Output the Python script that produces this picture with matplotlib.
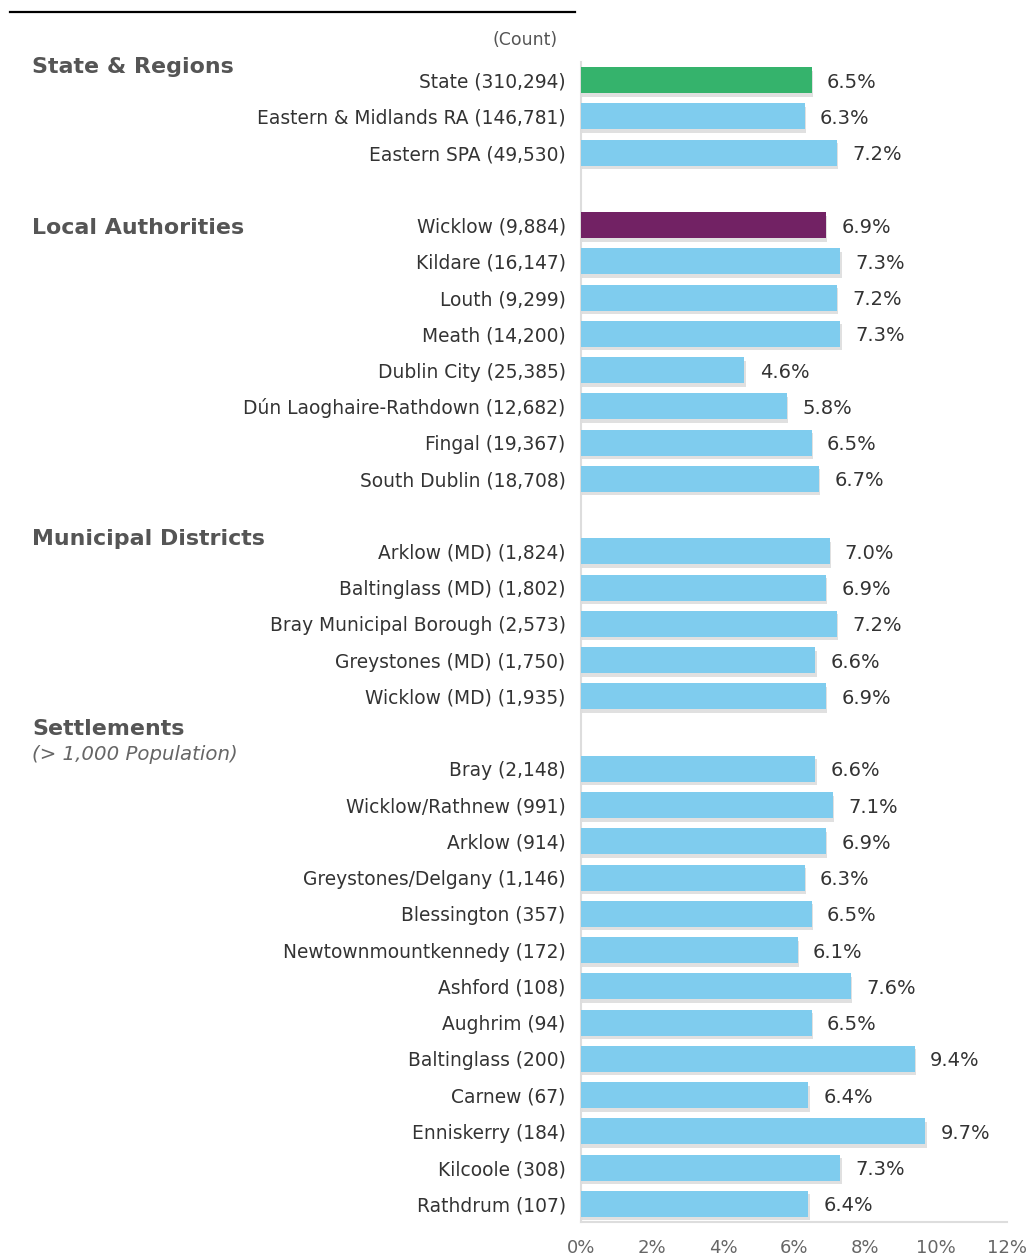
import matplotlib
matplotlib.use("Agg")
import matplotlib.pyplot as plt
import matplotlib.patheffects as pe
from matplotlib.lines import Line2D

plt.rcParams['font.family'] = ['DejaVu Sans']

# ---- data ----
state_labels = ["State (310,294)", "Eastern & Midlands RA (146,781)", "Eastern SPA (49,530)"]
state_values = [6.5, 6.3, 7.2]

la_labels = ["Wicklow (9,884)", "Kildare (16,147)", "Louth (9,299)", "Meath (14,200)",
             "Dublin City (25,385)", "Dún Laoghaire-Rathdown (12,682)", "Fingal (19,367)",
             "South Dublin (18,708)"]
la_values = [6.9, 7.3, 7.2, 7.3, 4.6, 5.8, 6.5, 6.7]

md_labels = ["Arklow (MD) (1,824)", "Baltinglass (MD) (1,802)", "Bray Municipal Borough (2,573)",
             "Greystones (MD) (1,750)", "Wicklow (MD) (1,935)"]
md_values = [7.0, 6.9, 7.2, 6.6, 6.9]

set_labels = ["Bray (2,148)", "Wicklow/Rathnew (991)", "Arklow (914)", "Greystones/Delgany (1,146)",
              "Blessington (357)", "Newtownmountkennedy (172)", "Ashford (108)", "Aughrim (94)",
              "Baltinglass (200)", "Carnew (67)", "Enniskerry (184)", "Kilcoole (308)",
              "Rathdrum (107)"]
set_values = [6.6, 7.1, 6.9, 6.3, 6.5, 6.1, 7.6, 6.5, 9.4, 6.4, 9.7, 7.3, 6.4]

section_titles = ["State & Regions", "Local Authorities", "Municipal Districts", "Settlements"]
x_ticks = [0, 2, 4, 6, 8, 10, 12]
x_ticklabels = ["0%", "2%", "4%", "6%", "8%", "10%", "12%"]

GREEN = "#35B36C"
BLUE = "#7FCCEE"
PURPLE = "#722264"

# ---- layout of rows (blank row between groups) ----
groups = [(state_labels, state_values), (la_labels, la_values),
          (md_labels, md_values), (set_labels, set_values)]
labels, values, ypos = [], [], []
pos = 0
for gl, gv in groups:
    for l, v in zip(gl, gv):
        labels.append(l); values.append(v); ypos.append(pos); pos += 1
    pos += 1
n_rows = pos - 1

colors = [BLUE] * len(values)
colors[0] = GREEN
colors[labels.index("Wicklow (9,884)")] = PURPLE

W, H = 1028, 1256
fig = plt.figure(figsize=(W / 100, H / 100), dpi=100)
ax = fig.add_axes([581 / W, 1 - 1222 / H, 426 / W, (1222 - 62) / H])

shadow = [pe.SimplePatchShadow(offset=(1.0, -2.5), shadow_rgbFace="#999999", alpha=0.3), pe.Normal()]
bars = ax.barh(ypos, values, height=0.72, color=colors, zorder=3)
for b in bars:
    b.set_path_effects(shadow)

for y, v in zip(ypos, values):
    ax.annotate(f"{v:.1f}%", xy=(v, y), xytext=(11, -1.5), textcoords="offset points",
                ha="left", va="center", fontsize=14, color="#333333")

ax.set_xlim(0, 12)
ax.set_ylim(n_rows - 0.5, -0.5)
ax.set_yticks(ypos)
ax.set_yticklabels(labels, fontsize=13.4, color="#333333")
ax.tick_params(axis="y", length=0, pad=11)
ax.set_xticks(x_ticks)
ax.set_xticklabels(x_ticklabels, fontsize=13, color="#666666")
ax.tick_params(axis="x", length=0, pad=12)
for s in ["top", "right"]:
    ax.spines[s].set_visible(False)
ax.spines["left"].set_color("#dddddd")
ax.spines["bottom"].set_color("#dddddd")
ax.spines["left"].set_linewidth(1.5)
ax.spines["bottom"].set_linewidth(1.5)

# section headings
head_y = [67, 228, 539, 729]
for t, yy in zip(section_titles, head_y):
    fig.text(32 / W, 1 - yy / H, t, fontsize=15.9, fontweight="bold", color="#555555",
             ha="left", va="center")
fig.text(32 / W, 1 - 755 / H, "(> 1,000 Population)", fontsize=14.2, style="italic",
         color="#666666", ha="left", va="center")
fig.text(558 / W, 1 - 40 / H, "(Count)", fontsize=12.5, color="#555555", ha="right", va="center")

fig.add_artist(Line2D([10 / W, 575 / W], [1 - 12 / H, 1 - 12 / H], color="black", lw=1.6,
                      transform=fig.transFigure))

fig.savefig("out.png", dpi=100, facecolor="white")
